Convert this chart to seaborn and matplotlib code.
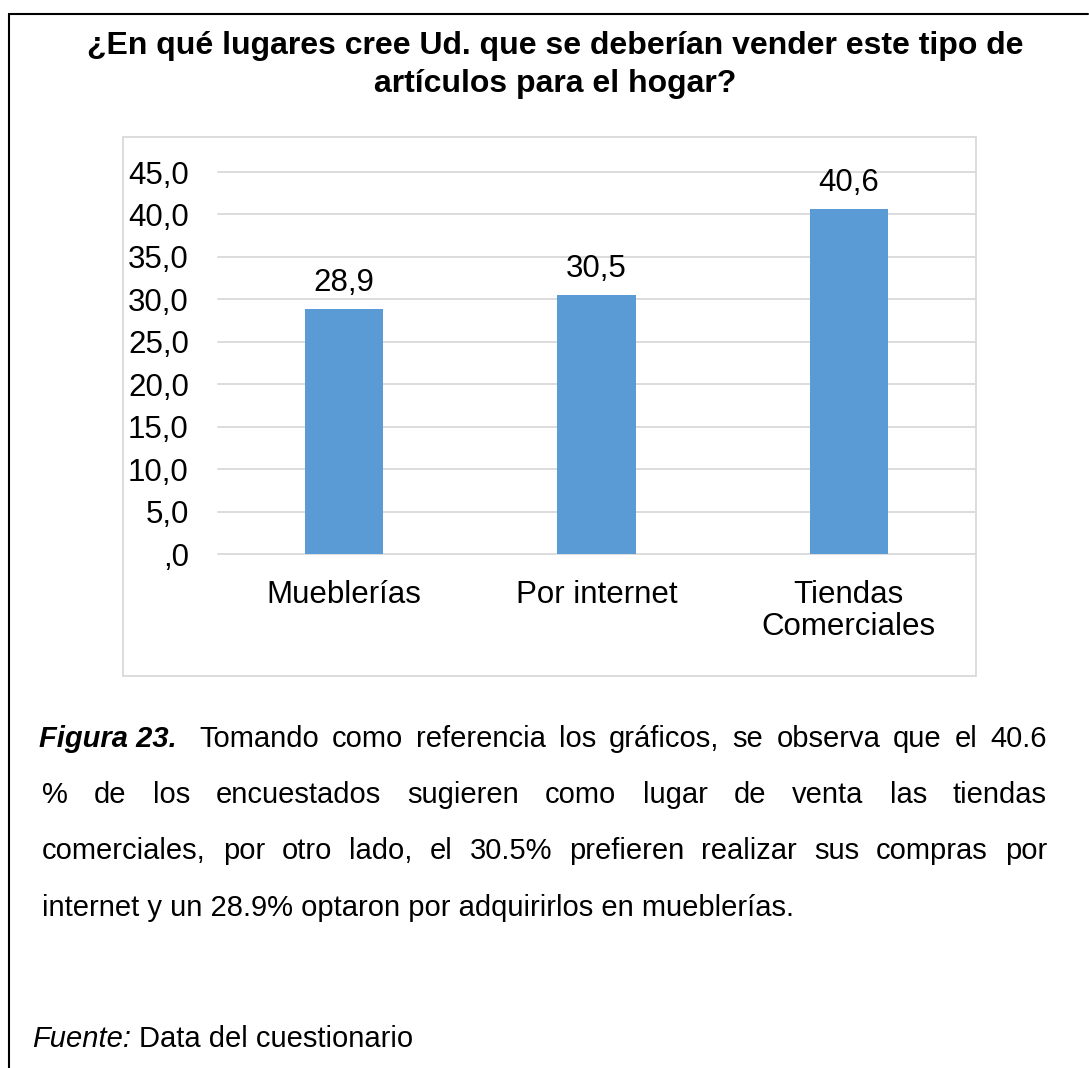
import matplotlib
matplotlib.use("Agg")
import matplotlib.pyplot as plt
import seaborn as sns
import pandas as pd
from matplotlib.patches import Rectangle
from matplotlib.lines import Line2D

# ---------------- data ----------------
categories = ["Mueblerías", "Por internet", "Tiendas\nComerciales"]
values = [28.9, 30.5, 40.6]
bar_labels = ["28,9", "30,5", "40,6"]
ytick_values = [0, 5, 10, 15, 20, 25, 30, 35, 40, 45]
ytick_labels = [",0", "5,0", "10,0", "15,0", "20,0", "25,0", "30,0", "35,0", "40,0", "45,0"]

title_lines = ["¿En qué lugares cree Ud. que se deberían vender este tipo de",
               "artículos para el hogar?"]
caption_lead = "Figura 23."
caption_lines = [
    "Tomando como referencia los gráficos, se observa que el 40.6",
    "% de los encuestados sugieren como lugar de venta las tiendas",
    "comerciales, por otro lado, el 30.5% prefieren realizar sus compras por",
    "internet y un 28.9% optaron por adquirirlos en mueblerías.",
]
source_lead = "Fuente:"
source_text = "Data del cuestionario"

# ---------------- style ----------------
sns.set_style("white")
plt.rcParams['font.family'] = ['Liberation Sans', 'DejaVu Sans']
plt.rcParams['text.color'] = 'black'
plt.rcParams['axes.labelcolor'] = 'black'
plt.rcParams['xtick.color'] = 'black'
plt.rcParams['ytick.color'] = 'black'

W, H = 1089, 1068
fig = plt.figure(figsize=(W / 100, H / 100), dpi=100)
fig.patch.set_facecolor("white")

def fx(px):
    return px / W

def fy(py):
    return 1 - py / H

ax = fig.add_axes([fx(218), fy(554), fx(975) - fx(218), fy(172) - fy(554)])

df = pd.DataFrame({"lugar": categories, "pct": values})
sns.barplot(data=df, x="lugar", y="pct", color="#5B9BD5", saturation=1,
            width=0.31, linewidth=0, ax=ax)

ax.set_ylim(0, 45)
ax.set_yticks(ytick_values)
ax.set_yticklabels(ytick_labels)
ax.set_xlabel("")
ax.set_ylabel("")
ax.tick_params(axis="y", length=0, pad=21, labelsize=22.5, labelcolor="black")
ax.tick_params(axis="x", length=0, pad=19, labelsize=22.5, labelcolor="black")
for lab in ax.get_xticklabels():
    lab.set_linespacing(1.05)

ax.yaxis.grid(True, color="#D9D9D9", linewidth=1.3)
ax.xaxis.grid(False)
ax.set_axisbelow(True)
for gl in ax.get_ygridlines():
    gl.set_clip_on(False)
for s in ax.spines.values():
    s.set_visible(False)

ax.bar_label(ax.containers[0], labels=bar_labels, padding=8, fontsize=22.5,
             color="black")

# chart frame
fig.add_artist(Rectangle((fx(123), fy(676)), fx(976) - fx(123), fy(137) - fy(676),
                         transform=fig.transFigure, fill=False,
                         edgecolor="#D9D9D9", linewidth=1.3))

# outer border (top + left)
fig.add_artist(Line2D([fx(9), fx(1088)], [fy(14), fy(14)], transform=fig.transFigure,
                      color="black", linewidth=1.5))
fig.add_artist(Line2D([fx(9), fx(9)], [fy(14), fy(1068)], transform=fig.transFigure,
                      color="black", linewidth=1.5))

# title
title_baselines = [54, 92]
for line, b in zip(title_lines, title_baselines):
    fig.text(fx(555), fy(b), line, ha="center", va="baseline",
             fontsize=23, fontweight="bold", color="black")

# caption (justified)
renderer = fig.canvas.get_renderer()
CAP_FS = 21

def text_width(s, **kw):
    t = fig.text(0, 0, s, fontsize=CAP_FS, **kw)
    w = t.get_window_extent(renderer).width
    t.remove()
    return w

def justify(words, x0, x1, base):
    widths = [text_width(w, **k) for w, k in words]
    n = len(words)
    gap = (x1 - x0 - sum(widths)) / (n - 1)
    x = x0
    for i, ((w, k), wd) in enumerate(zip(words, widths)):
        fig.text(fx(x), fy(base), w, fontsize=CAP_FS, ha="left", va="baseline",
                 color="black", **k)
        x += wd + gap

bi = dict(fontweight="bold", fontstyle="italic")
cap_baselines = [747, 803, 859, 916]
x_left, x_right = 42, 1047

fig.text(fx(39), fy(cap_baselines[0]), caption_lead, fontsize=CAP_FS, ha="left",
         va="baseline", color="black", **bi)
justify([(w, {}) for w in caption_lines[0].split()], 199, x_right, cap_baselines[0])
for i in (1, 2):
    justify([(w, {}) for w in caption_lines[i].split()], x_left, x_right, cap_baselines[i])
fig.text(fx(x_left), fy(cap_baselines[3]), caption_lines[3], fontsize=CAP_FS,
         ha="left", va="baseline", color="black")

# source line
sp = text_width("a a") - text_width("aa")
fw = text_width(source_lead, fontstyle="italic")
fig.text(fx(32), fy(1047), source_lead, fontsize=CAP_FS, fontstyle="italic",
         ha="left", va="baseline", color="black")
fig.text(fx(32 + fw + sp), fy(1047), source_text, fontsize=CAP_FS,
         ha="left", va="baseline", color="black")

fig.savefig("out.png", dpi=100, facecolor="white")
